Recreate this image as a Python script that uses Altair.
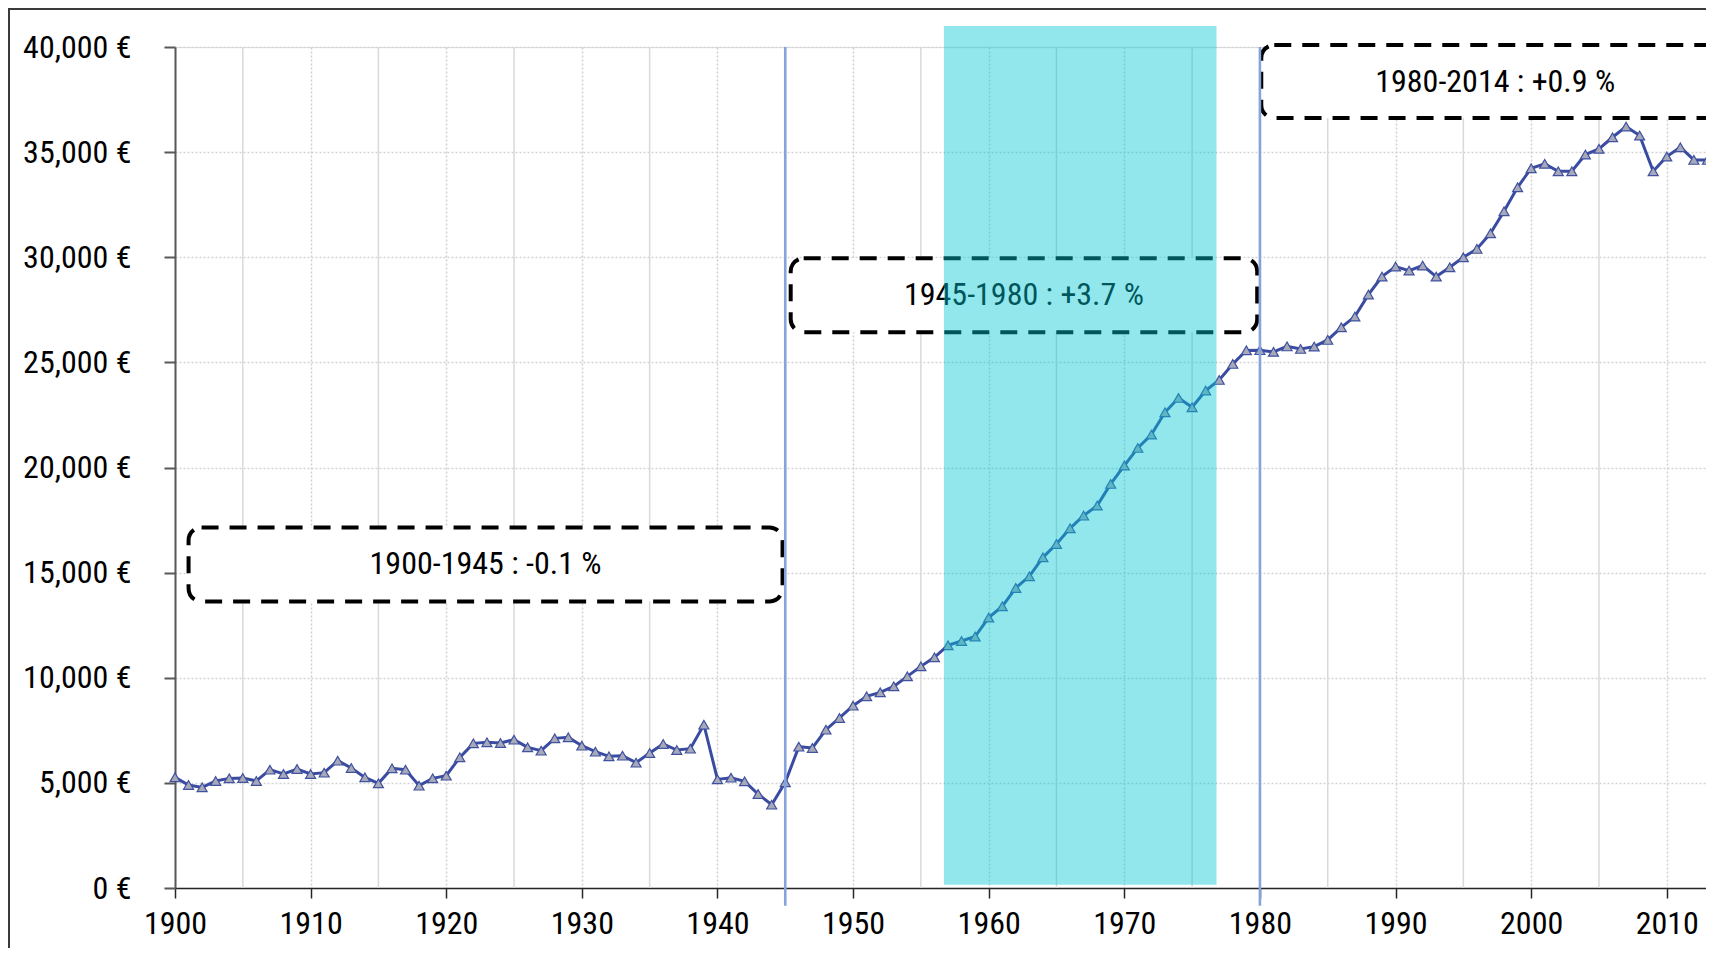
import altair as alt
import pandas as pd

# ---------------- data ----------------
years = list(range(1900, 2014))
values = [
    5261, 4900, 4786, 5090, 5214, 5233, 5090, 5628, 5423, 5661,        # 1900-1909
    5423, 5485, 6056, 5709, 5261, 4976, 5690, 5628, 4866, 5214,        # 1910-1919
    5342, 6213, 6879, 6927, 6898, 7055, 6689, 6531, 7117, 7164,        # 1920-1929
    6769, 6484, 6262, 6293, 5960, 6420, 6850, 6563, 6626, 7768,        # 1930-1939
    5166, 5247, 5071, 4471, 3963, 5024, 6722, 6660, 7530, 8087,        # 1940-1949
    8672, 9115, 9305, 9590, 10066, 10541, 10970, 11540, 11750, 11960,  # 1950-1959
    12860, 13396, 14271, 14823, 15727, 16364, 17106, 17710, 18186, 19218,  # 1960-1969
    20089, 20931, 21564, 22625, 23310, 22863, 23657, 24166, 24927, 25570,  # 1970-1979
    25580, 25500, 25760, 25640, 25750, 26069, 26668, 27177, 28224, 29080,  # 1980-1989
    29556, 29366, 29604, 29080, 29523, 29998, 30397, 31140, 32186, 33328,  # 1990-1999
    34232, 34441, 34090, 34090, 34883, 35155, 35707, 36215, 35787, 34090,  # 2000-2009
    34788, 35231, 34630, 34630,                                          # 2010-2013
]

x_ticks = list(range(1900, 2011, 10))
y_ticks = list(range(0, 40001, 5000))
minor_grid_years = list(range(1905, 2006, 10))

period_lines = [1945, 1980]

box_labels = ["1900-1945 : -0.1 %", "1945-1980 : +3.7 %", "1980-2014 : +0.9 %"]
box_x_start = [1901.0, 1945.4, 1980.1]
box_x_end = [1944.8, 1979.8, 2014.6]
box_y_low = [13630, 26430, 36620]
box_y_high = [17150, 29950, 40090]

shade_start = [1956.7]
shade_end = [1976.8]
shade_low = [150]
shade_high = [41000]

# ---------------- tables ----------------
df = pd.DataFrame({"year": years, "value": values})
grid_df = pd.DataFrame({"year": minor_grid_years})
vline_df = pd.DataFrame({"year": period_lines})
box_df = pd.DataFrame({
    "label": box_labels,
    "x": box_x_start, "x2": box_x_end,
    "y": box_y_low, "y2": box_y_high,
})
box_df["tx"] = (box_df["x"] + box_df["x2"]) / 2
box_df["ty"] = (box_df["y"] + box_df["y2"]) / 2
shade_df = pd.DataFrame({"x": shade_start, "x2": shade_end, "y": shade_low, "y2": shade_high})

W, H = 1546, 841
FONT = "Roboto Condensed, Liberation Sans Narrow, Arial Narrow, Roboto, sans-serif"
FS = 32

x_scale = alt.Scale(domain=[1900, 2014], nice=False, zero=False)
y_scale = alt.Scale(domain=[0, 40000], nice=False, zero=True)

x_axis = alt.Axis(values=x_ticks, format="d", title=None, grid=True,
                  gridDash=[2, 2], gridColor="#CFCFCF", gridWidth=1.5,
                  domainColor="#262626", domainWidth=1.5,
                  tickColor="#262626", tickWidth=1.5, tickSize=10,
                  labelFont=FONT, labelFontSize=FS, labelColor="#000000",
                  labelPadding=10, labelFlush=False)
y_axis = alt.Axis(values=y_ticks, title=None, grid=True,
                  labelExpr="format(datum.value, ',') + ' €'",
                  gridDash=[2, 2], gridColor="#D3D3D3", gridWidth=1.5,
                  domainColor="#595959", domainWidth=2,
                  tickColor="#595959", tickWidth=2, tickSize=11,
                  labelFont=FONT, labelFontSize=FS, labelColor="#000000",
                  labelPadding=33)

frame = alt.Chart(pd.DataFrame({"a": [0]})).mark_rect(
    filled=False, stroke="#3A3A3A", strokeWidth=2, clip=False
).encode(x=alt.value(-166), x2=alt.value(W + 200), y=alt.value(-38), y2=alt.value(H + 200))

minor_grid = alt.Chart(grid_df).mark_rule(color="#D9D9D9", strokeWidth=1.5).encode(
    x=alt.X("year:Q", scale=x_scale, axis=x_axis),
    y=alt.datum(0, scale=y_scale, axis=y_axis),
    y2=alt.datum(40000),
)

line = alt.Chart(df).mark_line(color="#3A4BA2", strokeWidth=3).encode(
    x=alt.X("year:Q", scale=x_scale),
    y=alt.Y("value:Q", scale=y_scale),
)
points = alt.Chart(df).mark_point(
    shape="triangle-up", filled=True, fill="#A7A9B8", stroke="#3F519F",
    strokeWidth=1.2, size=100, opacity=1
).encode(
    x=alt.X("year:Q", scale=x_scale),
    y=alt.Y("value:Q", scale=y_scale),
)

boxes = alt.Chart(box_df).mark_rect(
    fill="white", stroke="black", strokeWidth=4, strokeDash=[17, 11],
    cornerRadius=13, clip=False
).encode(
    x=alt.X("x:Q", scale=x_scale), x2="x2:Q",
    y=alt.Y("y:Q", scale=y_scale), y2="y2:Q",
)
texts = alt.Chart(box_df).mark_text(
    font=FONT, fontSize=FS, color="black", align="center", baseline="middle"
).encode(
    x=alt.X("tx:Q", scale=x_scale),
    y=alt.Y("ty:Q", scale=y_scale),
    text="label:N",
)

shade = alt.Chart(shade_df).mark_rect(color="#00C8D2", opacity=0.43, clip=False).encode(
    x=alt.X("x:Q", scale=x_scale), x2="x2:Q",
    y=alt.Y("y:Q", scale=y_scale), y2="y2:Q",
)

vlines = alt.Chart(vline_df).mark_rule(color="#86A3DC", strokeWidth=2.6, clip=False).encode(
    x=alt.X("year:Q", scale=x_scale),
    y=alt.datum(-850),
    y2=alt.datum(40000),
)

chart = alt.layer(
    frame, minor_grid, line, points, boxes, texts, shade, vlines
).properties(
    width=W, height=H,
    padding={"left": 167, "top": 39, "right": -15, "bottom": 60},
    autosize="none",
).configure_view(stroke=None).configure(background="white")

chart.save("out.html", embed_options={"renderer": "svg", "actions": False})
